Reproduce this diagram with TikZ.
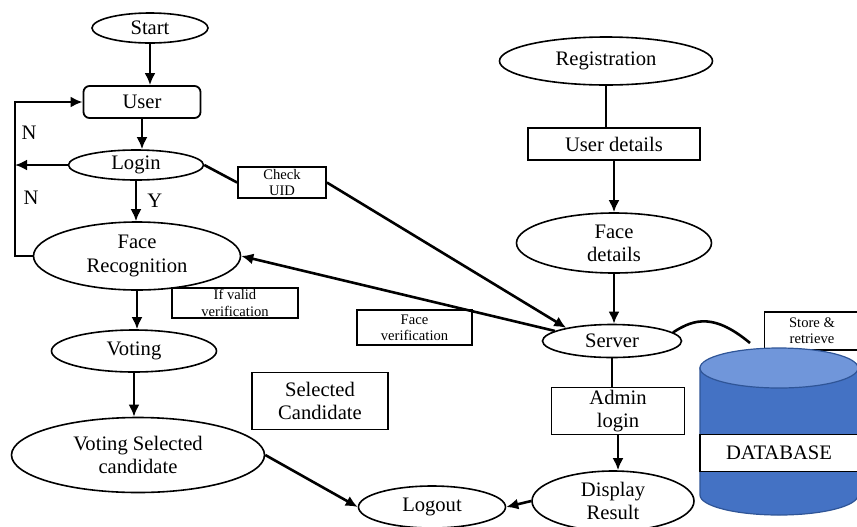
\documentclass[tikz,border=0pt]{standalone}
\usepackage{fontspec}
\setmainfont{Liberation Serif}
\usepackage{tikz}
\usetikzlibrary{arrows.meta,shapes.geometric}
\definecolor{dbbody}{RGB}{68,114,196}
\definecolor{dbtop}{RGB}{112,150,218}
\definecolor{dbedge}{RGB}{47,85,151}
\tikzset{
  flowarrow/.style={-{Latex[length=6pt,width=5.5pt]}, line width=1.3pt},
  flowline/.style={line width=1.3pt},
  termnode/.style={draw, ellipse, line width=0.8pt, inner sep=0pt, align=center},
  procbox/.style={draw, line width=0.9pt, inner sep=0pt, align=center},
  notebox/.style={draw, line width=0.9pt, inner sep=0pt, align=center, font=\fontsize{7.3}{8.2}\selectfont},
  flag/.style={inner sep=0pt}
}

\begin{document}
\begin{tikzpicture}[x=0.5pt, y=-0.5pt, >=Latex, every node/.style={font=\fontsize{10.3}{11.6}\selectfont}]
      \useasboundingbox (0,0) rectangle (857,526);
      \node[termnode, minimum width=58pt, minimum height=15pt] (start) at (150,28) {Start};
      \node[procbox, rounded corners=3pt, minimum width=58.5pt, minimum height=16pt] (user) at (142,102) {User};
      \node[termnode, minimum width=67.5pt, minimum height=15pt] (login) at (136,165) {Login};
      \node[termnode, minimum width=103.5pt, minimum height=34pt] (facerec) at (137,256) {Face\\Recognition};
      \node[notebox, minimum width=44pt, minimum height=15.5pt] (checkuid) at (282,182.5) {Check\\UID};
      \node[notebox, minimum width=63pt, minimum height=15pt] (ifvalid) at (235,303) {If valid\\verification};
      \node[termnode, minimum width=82.5pt, minimum height=21pt] (voting) at (134,351) {Voting};
      \node[termnode, minimum width=126.5pt, minimum height=37.5pt] (votesel) at (138,455) {Voting Selected\\candidate};
      \node[procbox, minimum width=68pt, minimum height=28.5pt] (selcand) at (320,401) {Selected\\Candidate};
      \node[termnode, minimum width=73.5pt, minimum height=21pt] (logout) at (432,507) {Logout};
      \node[notebox, minimum width=57.5pt, minimum height=17.5pt] (facever) at (414.5,327.5) {Face\\verification};
      \node[termnode, minimum width=106.5pt, minimum height=24pt] (regist) at (606,61) {Registration};
      \node[procbox, minimum width=86pt, minimum height=16pt] (userdet) at (614,144) {User details};
      \node[termnode, minimum width=97.5pt, minimum height=30pt] (facedet) at (614,243) {Face\\details};
      \node[termnode, minimum width=69.5pt, minimum height=16.5pt] (server) at (612,341) {Server};
      \node[procbox, minimum width=66.5pt, minimum height=23.5pt] (admin) at (618,411) {Admin\\login};
      \node[termnode, minimum width=81pt, minimum height=30pt] (display) at (613,501) {Display\\Result};
      \node[notebox, minimum width=47.5pt, minimum height=19pt] (store) at (812,331) {Store \&\\retrieve};
      \filldraw[fill=dbbody, draw=dbedge, line width=0.6pt] (700,368) -- (700,495) arc[start angle=180, end angle=360, x radius=39.5pt, y radius=10pt] -- (858,368) -- cycle;
      \filldraw[fill=dbtop, draw=dbedge, line width=0.6pt] (779,368) ellipse [x radius=39.5pt, y radius=10pt];
      \node[procbox, fill=white, minimum width=79pt, minimum height=18.5pt] (dbname) at (779,453) {DATABASE};
      \coordinate (loopx) at (15,0);
      \coordinate (dbjoin) at (750,343);
      \draw[flowarrow] (start.south) -- (start.south |- user.north);
      \draw[flowarrow] (user.south) -- (user.south |- login.north);
      \draw[flowarrow] (login.south) -- (login.south |- facerec.north) node[flag, pos=0.5, right=5pt] (ylab) {Y};
      \draw[flowarrow] (facerec.west) -- (facerec.west -| loopx) |- (user.west);
      \draw[flowarrow] (login.west) -- (login.west -| loopx);
      \node[flag] (nup) at (29,133) {N};
      \node[flag] (ndown) at (31,198) {N};
      \draw[flowline] (login.east) -- (checkuid.west);
      \draw[flowarrow] (checkuid.east) -- (server.164);
      \draw[flowarrow] (server.170) -- (facerec.east);
      \draw[flowarrow] (facerec.south) -- (facerec.south |- voting.north);
      \draw[flowarrow] (voting.south) -- (voting.south |- votesel.north);
      \draw[flowarrow] (votesel.east) -- (logout.west);
      \draw[flowarrow] (display.west) -- (logout.east);
      \draw[flowline] (regist.south) -- (regist.south |- userdet.north);
      \draw[flowarrow] (userdet.south) -- (userdet.south |- facedet.north);
      \draw[flowarrow] (facedet.south) -- (facedet.south |- server.north);
      \draw[flowline] (server.south) -- (server.south |- admin.north);
      \draw[flowarrow] (admin.south) -- (admin.south |- display.north);
      \draw[flowline] (server.8) .. controls (695,318) and (715,314) .. (dbjoin);
    \end{tikzpicture}
\end{document}
